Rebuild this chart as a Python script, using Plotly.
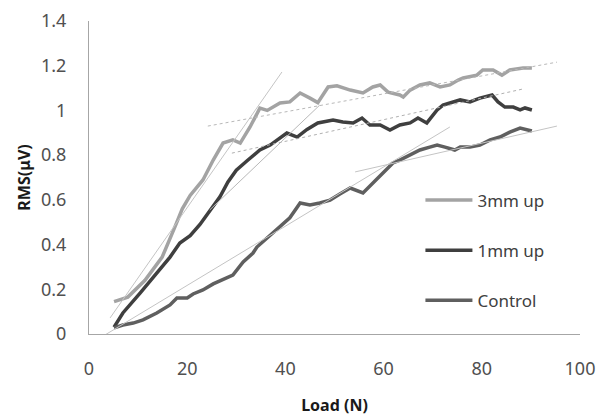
import plotly.graph_objects as go

# ---- data ----
load_3mm = [5.1, 7.9, 11.4, 14.9, 17.5, 19.0, 20.6, 23.2, 25.3, 27.3, 29.3, 30.8, 32.8, 34.8, 36.3,
            38.9, 40.9, 43.0, 45.0, 46.6, 48.7, 50.5, 53.2, 55.8, 57.8, 59.3, 60.9, 63.3, 64.0, 65.4,
            67.4, 69.4, 71.5, 73.5, 75.2, 76.2, 79.0, 80.2, 82.3, 84.1, 85.7, 88.4, 90.2]
rms_3mm = [0.145, 0.165, 0.24, 0.344, 0.479, 0.56, 0.62, 0.689, 0.778, 0.854, 0.868, 0.854, 0.926,
           1.01, 1.0, 1.033, 1.038, 1.078, 1.055, 1.035, 1.105, 1.11, 1.091, 1.078, 1.105, 1.114,
           1.082, 1.069, 1.06, 1.091, 1.114, 1.123, 1.105, 1.114, 1.136, 1.145, 1.158, 1.181, 1.181,
           1.158, 1.181, 1.19, 1.19]

load_1mm = [5.1, 6.9, 10.4, 13.8, 16.5, 18.5, 20.6, 22.6, 24.6, 26.7, 28.3, 30.0, 32.2, 34.8, 36.9,
            38.3, 40.3, 42.4, 44.4, 46.6, 49.7, 51.7, 53.8, 55.6, 57.2, 59.3, 61.3, 63.3, 65.4, 67.0,
            68.8, 70.9, 72.1, 73.5, 75.6, 77.6, 79.6, 82.1, 83.3, 84.7, 86.4, 87.8, 88.8, 90.2]
rms_1mm = [0.031, 0.094, 0.183, 0.273, 0.344, 0.407, 0.44, 0.49, 0.55, 0.615, 0.68, 0.733, 0.775,
           0.823, 0.845, 0.868, 0.899, 0.881, 0.915, 0.944, 0.957, 0.948, 0.944, 0.966, 0.935, 0.935,
           0.912, 0.935, 0.944, 0.966, 0.944, 1.002, 1.024, 1.033, 1.047, 1.038, 1.055, 1.069, 1.038,
           1.015, 1.015, 1.002, 1.011, 1.002]

load_ctrl = [5.1, 6.9, 9.0, 11.0, 13.8, 16.5, 17.9, 20.0, 21.2, 23.2, 25.3, 27.3, 29.3, 31.4, 33.4,
             34.2, 36.3, 38.9, 40.9, 43.0, 45.0, 47.0, 49.1, 51.1, 53.2, 55.8, 57.8, 59.9, 61.9, 63.3,
             65.4, 67.4, 69.4, 70.9, 72.5, 74.5, 75.6, 77.6, 79.6, 81.7, 83.7, 85.7, 87.8, 90.2]
rms_ctrl = [0.027, 0.04, 0.049, 0.063, 0.094, 0.13, 0.161, 0.161, 0.179, 0.197, 0.224, 0.246, 0.264,
            0.322, 0.362, 0.389, 0.43, 0.479, 0.52, 0.586, 0.577, 0.586, 0.599, 0.626, 0.653, 0.631,
            0.675, 0.72, 0.765, 0.778, 0.8, 0.823, 0.836, 0.845, 0.836, 0.823, 0.836, 0.836, 0.845,
            0.868, 0.881, 0.903, 0.921, 0.908]

# hand-drawn trend lines (endpoints)
trend_3mm_steep_x = [4.3, 39.3]
trend_3mm_steep_y = [0.072, 1.172]
trend_3mm_flat_x = [24.2, 95.3]
trend_3mm_flat_y = [0.93, 1.216]
trend_1mm_steep_x = [24.6, 47.0]
trend_1mm_steep_y = [0.555, 1.024]
trend_1mm_flat_x = [29.1, 88.4]
trend_1mm_flat_y = [0.809, 1.096]
trend_ctrl_steep_x = [2.9, 73.5]
trend_ctrl_steep_y = [-0.009, 0.926]
trend_ctrl_flat_x = [54.2, 95.3]
trend_ctrl_flat_y = [0.725, 0.93]

x_ticks = [0, 20, 40, 60, 80, 100]
y_ticks = [0, 0.2, 0.4, 0.6, 0.8, 1, 1.2, 1.4]
y_tick_text = ["0", "0.2", "0.4", "0.6", "0.8", "1", "1.2", "1.4"]

FONT = "Noto Sans"

fig = go.Figure()
series = [
    ("3mm up", load_3mm, rms_3mm, "#a3a3a3"),
    ("1mm up", load_1mm, rms_1mm, "#3f3f3f"),
    ("Control", load_ctrl, rms_ctrl, "#5f5f5f"),
]
for name, xs, ys, col in series:
    fig.add_trace(go.Scatter(x=xs, y=ys, mode="lines", name=name, legendgroup=name,
                             line=dict(color=col, width=3.5)))

trends = [
    (trend_3mm_steep_x, trend_3mm_steep_y, "#c4c4c4", "solid"),
    (trend_3mm_flat_x, trend_3mm_flat_y, "#b8b8b8", "dot"),
    (trend_1mm_steep_x, trend_1mm_steep_y, "#b8b8b8", "solid"),
    (trend_1mm_flat_x, trend_1mm_flat_y, "#b0b0b0", "dot"),
    (trend_ctrl_steep_x, trend_ctrl_steep_y, "#c4c4c4", "solid"),
    (trend_ctrl_flat_x, trend_ctrl_flat_y, "#c4c4c4", "solid"),
]
for xs, ys, col, dash in trends:
    fig.add_trace(go.Scatter(x=xs, y=ys, mode="lines", showlegend=False, hoverinfo="skip",
                             line=dict(color=col, width=1, dash=dash)))

fig.update_layout(
    width=606, height=416,
    margin=dict(l=89, r=26, t=21, b=82),
    paper_bgcolor="white", plot_bgcolor="white",
    font=dict(family=FONT, size=18, color="#404040"),
    legend=dict(x=0.675, y=0.484, xanchor="left", yanchor="top",
                font=dict(family=FONT, size=17, color="#404040"),
                tracegroupgap=25, bgcolor="rgba(0,0,0,0)", itemwidth=47),
    showlegend=True,
)
fig.update_xaxes(range=[0, 100], tickvals=x_ticks, showgrid=False, zeroline=False,
                 showline=True, linecolor="#a6a6a6", linewidth=1, ticks="",
                 ticklabelstandoff=18, automargin=False,
                 tickfont=dict(family=FONT, size=18, color="#505050"),
                 title=dict(text="<b>Load (N)</b>", font=dict(family=FONT, size=16, color="#1a1a1a"),
                            standoff=21))
fig.update_yaxes(range=[0, 1.4], tickvals=y_ticks, ticktext=y_tick_text, showgrid=False,
                 zeroline=False, showline=True, linecolor="#a6a6a6", linewidth=1, ticks="",
                 ticklabelstandoff=18, automargin=False,
                 tickfont=dict(family=FONT, size=18, color="#505050"),
                 title=dict(text="<b>RMS(μV)</b>", font=dict(family=FONT, size=16, color="#1a1a1a"),
                            standoff=6))

fig.write_html("out.html")
